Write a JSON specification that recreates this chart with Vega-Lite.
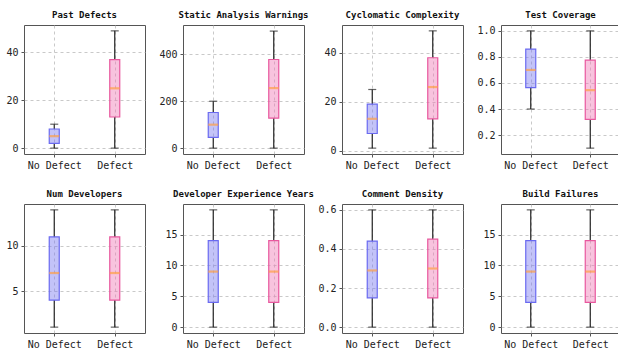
{
  "$schema": "https://vega.github.io/schema/vega-lite/v6.json",
  "padding": {"left": 5, "top": 10, "right": 0, "bottom": 0},
  "background": "white",
  "data": {"values": [
    {"feature": "Past Defects", "cls": "No Defect", "min": 0, "q1": 2, "med": 5, "q3": 8, "max": 10},
    {"feature": "Past Defects", "cls": "Defect", "min": 0, "q1": 13, "med": 25, "q3": 37, "max": 49},
    {"feature": "Static Analysis Warnings", "cls": "No Defect", "min": 0, "q1": 46, "med": 100, "q3": 152, "max": 200},
    {"feature": "Static Analysis Warnings", "cls": "Defect", "min": 0, "q1": 128, "med": 256, "q3": 378, "max": 499},
    {"feature": "Cyclomatic Complexity", "cls": "No Defect", "min": 1, "q1": 7, "med": 13, "q3": 19, "max": 25},
    {"feature": "Cyclomatic Complexity", "cls": "Defect", "min": 1, "q1": 13, "med": 26, "q3": 38, "max": 49},
    {"feature": "Test Coverage", "cls": "No Defect", "min": 0.4, "q1": 0.565, "med": 0.7, "q3": 0.86, "max": 1.0},
    {"feature": "Test Coverage", "cls": "Defect", "min": 0.1, "q1": 0.32, "med": 0.545, "q3": 0.775, "max": 1.0},
    {"feature": "Num Developers", "cls": "No Defect", "min": 1, "q1": 4, "med": 7, "q3": 11, "max": 14},
    {"feature": "Num Developers", "cls": "Defect", "min": 1, "q1": 4, "med": 7, "q3": 11, "max": 14},
    {"feature": "Developer Experience Years", "cls": "No Defect", "min": 0, "q1": 4, "med": 9, "q3": 14, "max": 19},
    {"feature": "Developer Experience Years", "cls": "Defect", "min": 0, "q1": 4, "med": 9, "q3": 14, "max": 19},
    {"feature": "Comment Density", "cls": "No Defect", "min": 0, "q1": 0.15, "med": 0.29, "q3": 0.44, "max": 0.6},
    {"feature": "Comment Density", "cls": "Defect", "min": 0, "q1": 0.15, "med": 0.3, "q3": 0.45, "max": 0.6},
    {"feature": "Build Failures", "cls": "No Defect", "min": 0, "q1": 4, "med": 9, "q3": 14, "max": 19},
    {"feature": "Build Failures", "cls": "Defect", "min": 0, "q1": 4, "med": 9, "q3": 14, "max": 19}
  ]},
  "columns": 4,
  "bounds": "flush",
  "spacing": {"column": 38, "row": 50},
  "concat": [
    {
      "title": "Past Defects", "width": 121, "height": 129,
      "transform": [{"filter": "datum.feature == 'Past Defects'"}],
      "encoding": {"x": {"field": "cls", "type": "nominal", "title": null, "scale": {"type": "point", "domain": ["No Defect", "Defect"], "padding": 0.5}}},
      "layer": [
        {"mark": {"type": "rule", "color": "#222", "strokeWidth": 1.2}, "encoding": {"y": {"field": "min", "type": "quantitative", "title": null, "scale": {"domain": [-2.45, 51.45], "nice": false, "zero": false}, "axis": {"values": [0, 20, 40], "tickCount": 10}}, "y2": {"field": "q1"}}},
        {"mark": {"type": "rule", "color": "#222", "strokeWidth": 1.2}, "encoding": {"y": {"field": "q3", "type": "quantitative"}, "y2": {"field": "max"}}},
        {"mark": {"type": "tick", "color": "#222", "size": 8, "thickness": 1.2}, "encoding": {"y": {"field": "min", "type": "quantitative"}}},
        {"mark": {"type": "tick", "color": "#222", "size": 8, "thickness": 1.2}, "encoding": {"y": {"field": "max", "type": "quantitative"}}},
        {"mark": {"type": "bar", "size": 10, "strokeWidth": 1.2, "fillOpacity": 0.45}, "encoding": {"y": {"field": "q1", "type": "quantitative"}, "y2": {"field": "q3"}, "fill": {"field": "cls", "type": "nominal", "scale": {"domain": ["No Defect", "Defect"], "range": ["#7b7bf0", "#f07bb5"]}, "legend": null}, "stroke": {"field": "cls", "type": "nominal", "scale": {"domain": ["No Defect", "Defect"], "range": ["#6a6af0", "#e8589e"]}, "legend": null}}},
        {"mark": {"type": "tick", "color": "#ff9f45", "size": 10, "thickness": 2.2}, "encoding": {"y": {"field": "med", "type": "quantitative"}}}
      ]
    },
    {
      "title": "Static Analysis Warnings", "width": 121, "height": 129,
      "transform": [{"filter": "datum.feature == 'Static Analysis Warnings'"}],
      "encoding": {"x": {"field": "cls", "type": "nominal", "title": null, "scale": {"type": "point", "domain": ["No Defect", "Defect"], "padding": 0.5}}},
      "layer": [
        {"mark": {"type": "rule", "color": "#222", "strokeWidth": 1.2}, "encoding": {"y": {"field": "min", "type": "quantitative", "title": null, "scale": {"domain": [-25, 525], "nice": false, "zero": false}, "axis": {"values": [0, 200, 400], "tickCount": 10}}, "y2": {"field": "q1"}}},
        {"mark": {"type": "rule", "color": "#222", "strokeWidth": 1.2}, "encoding": {"y": {"field": "q3", "type": "quantitative"}, "y2": {"field": "max"}}},
        {"mark": {"type": "tick", "color": "#222", "size": 8, "thickness": 1.2}, "encoding": {"y": {"field": "min", "type": "quantitative"}}},
        {"mark": {"type": "tick", "color": "#222", "size": 8, "thickness": 1.2}, "encoding": {"y": {"field": "max", "type": "quantitative"}}},
        {"mark": {"type": "bar", "size": 10, "strokeWidth": 1.2, "fillOpacity": 0.45}, "encoding": {"y": {"field": "q1", "type": "quantitative"}, "y2": {"field": "q3"}, "fill": {"field": "cls", "type": "nominal", "scale": {"domain": ["No Defect", "Defect"], "range": ["#7b7bf0", "#f07bb5"]}, "legend": null}, "stroke": {"field": "cls", "type": "nominal", "scale": {"domain": ["No Defect", "Defect"], "range": ["#6a6af0", "#e8589e"]}, "legend": null}}},
        {"mark": {"type": "tick", "color": "#ff9f45", "size": 10, "thickness": 2.2}, "encoding": {"y": {"field": "med", "type": "quantitative"}}}
      ]
    },
    {
      "title": "Cyclomatic Complexity", "width": 121, "height": 129,
      "transform": [{"filter": "datum.feature == 'Cyclomatic Complexity'"}],
      "encoding": {"x": {"field": "cls", "type": "nominal", "title": null, "scale": {"type": "point", "domain": ["No Defect", "Defect"], "padding": 0.5}}},
      "layer": [
        {"mark": {"type": "rule", "color": "#222", "strokeWidth": 1.2}, "encoding": {"y": {"field": "min", "type": "quantitative", "title": null, "scale": {"domain": [-1.4, 51.4], "nice": false, "zero": false}, "axis": {"values": [0, 20, 40], "tickCount": 10}}, "y2": {"field": "q1"}}},
        {"mark": {"type": "rule", "color": "#222", "strokeWidth": 1.2}, "encoding": {"y": {"field": "q3", "type": "quantitative"}, "y2": {"field": "max"}}},
        {"mark": {"type": "tick", "color": "#222", "size": 8, "thickness": 1.2}, "encoding": {"y": {"field": "min", "type": "quantitative"}}},
        {"mark": {"type": "tick", "color": "#222", "size": 8, "thickness": 1.2}, "encoding": {"y": {"field": "max", "type": "quantitative"}}},
        {"mark": {"type": "bar", "size": 10, "strokeWidth": 1.2, "fillOpacity": 0.45}, "encoding": {"y": {"field": "q1", "type": "quantitative"}, "y2": {"field": "q3"}, "fill": {"field": "cls", "type": "nominal", "scale": {"domain": ["No Defect", "Defect"], "range": ["#7b7bf0", "#f07bb5"]}, "legend": null}, "stroke": {"field": "cls", "type": "nominal", "scale": {"domain": ["No Defect", "Defect"], "range": ["#6a6af0", "#e8589e"]}, "legend": null}}},
        {"mark": {"type": "tick", "color": "#ff9f45", "size": 10, "thickness": 2.2}, "encoding": {"y": {"field": "med", "type": "quantitative"}}}
      ]
    },
    {
      "title": "Test Coverage", "width": 119, "height": 129,
      "transform": [{"filter": "datum.feature == 'Test Coverage'"}],
      "encoding": {"x": {"field": "cls", "type": "nominal", "title": null, "scale": {"type": "point", "domain": ["No Defect", "Defect"], "padding": 0.5}}},
      "layer": [
        {"mark": {"type": "rule", "color": "#222", "strokeWidth": 1.2}, "encoding": {"y": {"field": "min", "type": "quantitative", "title": null, "scale": {"domain": [0.055, 1.045], "nice": false, "zero": false}, "axis": {"values": [0.2, 0.4, 0.6, 0.8, 1.0], "format": ".1f", "tickCount": 10}}, "y2": {"field": "q1"}}},
        {"mark": {"type": "rule", "color": "#222", "strokeWidth": 1.2}, "encoding": {"y": {"field": "q3", "type": "quantitative"}, "y2": {"field": "max"}}},
        {"mark": {"type": "tick", "color": "#222", "size": 8, "thickness": 1.2}, "encoding": {"y": {"field": "min", "type": "quantitative"}}},
        {"mark": {"type": "tick", "color": "#222", "size": 8, "thickness": 1.2}, "encoding": {"y": {"field": "max", "type": "quantitative"}}},
        {"mark": {"type": "bar", "size": 10, "strokeWidth": 1.2, "fillOpacity": 0.45}, "encoding": {"y": {"field": "q1", "type": "quantitative"}, "y2": {"field": "q3"}, "fill": {"field": "cls", "type": "nominal", "scale": {"domain": ["No Defect", "Defect"], "range": ["#7b7bf0", "#f07bb5"]}, "legend": null}, "stroke": {"field": "cls", "type": "nominal", "scale": {"domain": ["No Defect", "Defect"], "range": ["#6a6af0", "#e8589e"]}, "legend": null}}},
        {"mark": {"type": "tick", "color": "#ff9f45", "size": 10, "thickness": 2.2}, "encoding": {"y": {"field": "med", "type": "quantitative"}}}
      ]
    },
    {
      "title": "Num Developers", "width": 121, "height": 129,
      "transform": [{"filter": "datum.feature == 'Num Developers'"}],
      "encoding": {"x": {"field": "cls", "type": "nominal", "title": null, "scale": {"type": "point", "domain": ["No Defect", "Defect"], "padding": 0.5}}},
      "layer": [
        {"mark": {"type": "rule", "color": "#222", "strokeWidth": 1.2}, "encoding": {"y": {"field": "min", "type": "quantitative", "title": null, "scale": {"domain": [0.35, 14.65], "nice": false, "zero": false}, "axis": {"values": [5, 10], "tickCount": 10}}, "y2": {"field": "q1"}}},
        {"mark": {"type": "rule", "color": "#222", "strokeWidth": 1.2}, "encoding": {"y": {"field": "q3", "type": "quantitative"}, "y2": {"field": "max"}}},
        {"mark": {"type": "tick", "color": "#222", "size": 8, "thickness": 1.2}, "encoding": {"y": {"field": "min", "type": "quantitative"}}},
        {"mark": {"type": "tick", "color": "#222", "size": 8, "thickness": 1.2}, "encoding": {"y": {"field": "max", "type": "quantitative"}}},
        {"mark": {"type": "bar", "size": 10, "strokeWidth": 1.2, "fillOpacity": 0.45}, "encoding": {"y": {"field": "q1", "type": "quantitative"}, "y2": {"field": "q3"}, "fill": {"field": "cls", "type": "nominal", "scale": {"domain": ["No Defect", "Defect"], "range": ["#7b7bf0", "#f07bb5"]}, "legend": null}, "stroke": {"field": "cls", "type": "nominal", "scale": {"domain": ["No Defect", "Defect"], "range": ["#6a6af0", "#e8589e"]}, "legend": null}}},
        {"mark": {"type": "tick", "color": "#ff9f45", "size": 10, "thickness": 2.2}, "encoding": {"y": {"field": "med", "type": "quantitative"}}}
      ]
    },
    {
      "title": "Developer Experience Years", "width": 121, "height": 129,
      "transform": [{"filter": "datum.feature == 'Developer Experience Years'"}],
      "encoding": {"x": {"field": "cls", "type": "nominal", "title": null, "scale": {"type": "point", "domain": ["No Defect", "Defect"], "padding": 0.5}}},
      "layer": [
        {"mark": {"type": "rule", "color": "#222", "strokeWidth": 1.2}, "encoding": {"y": {"field": "min", "type": "quantitative", "title": null, "scale": {"domain": [-0.95, 19.95], "nice": false, "zero": false}, "axis": {"values": [0, 5, 10, 15], "tickCount": 10}}, "y2": {"field": "q1"}}},
        {"mark": {"type": "rule", "color": "#222", "strokeWidth": 1.2}, "encoding": {"y": {"field": "q3", "type": "quantitative"}, "y2": {"field": "max"}}},
        {"mark": {"type": "tick", "color": "#222", "size": 8, "thickness": 1.2}, "encoding": {"y": {"field": "min", "type": "quantitative"}}},
        {"mark": {"type": "tick", "color": "#222", "size": 8, "thickness": 1.2}, "encoding": {"y": {"field": "max", "type": "quantitative"}}},
        {"mark": {"type": "bar", "size": 10, "strokeWidth": 1.2, "fillOpacity": 0.45}, "encoding": {"y": {"field": "q1", "type": "quantitative"}, "y2": {"field": "q3"}, "fill": {"field": "cls", "type": "nominal", "scale": {"domain": ["No Defect", "Defect"], "range": ["#7b7bf0", "#f07bb5"]}, "legend": null}, "stroke": {"field": "cls", "type": "nominal", "scale": {"domain": ["No Defect", "Defect"], "range": ["#6a6af0", "#e8589e"]}, "legend": null}}},
        {"mark": {"type": "tick", "color": "#ff9f45", "size": 10, "thickness": 2.2}, "encoding": {"y": {"field": "med", "type": "quantitative"}}}
      ]
    },
    {
      "title": "Comment Density", "width": 121, "height": 129,
      "transform": [{"filter": "datum.feature == 'Comment Density'"}],
      "encoding": {"x": {"field": "cls", "type": "nominal", "title": null, "scale": {"type": "point", "domain": ["No Defect", "Defect"], "padding": 0.5}}},
      "layer": [
        {"mark": {"type": "rule", "color": "#222", "strokeWidth": 1.2}, "encoding": {"y": {"field": "min", "type": "quantitative", "title": null, "scale": {"domain": [-0.03, 0.63], "nice": false, "zero": false}, "axis": {"values": [0, 0.2, 0.4, 0.6], "format": ".1f", "tickCount": 10}}, "y2": {"field": "q1"}}},
        {"mark": {"type": "rule", "color": "#222", "strokeWidth": 1.2}, "encoding": {"y": {"field": "q3", "type": "quantitative"}, "y2": {"field": "max"}}},
        {"mark": {"type": "tick", "color": "#222", "size": 8, "thickness": 1.2}, "encoding": {"y": {"field": "min", "type": "quantitative"}}},
        {"mark": {"type": "tick", "color": "#222", "size": 8, "thickness": 1.2}, "encoding": {"y": {"field": "max", "type": "quantitative"}}},
        {"mark": {"type": "bar", "size": 10, "strokeWidth": 1.2, "fillOpacity": 0.45}, "encoding": {"y": {"field": "q1", "type": "quantitative"}, "y2": {"field": "q3"}, "fill": {"field": "cls", "type": "nominal", "scale": {"domain": ["No Defect", "Defect"], "range": ["#7b7bf0", "#f07bb5"]}, "legend": null}, "stroke": {"field": "cls", "type": "nominal", "scale": {"domain": ["No Defect", "Defect"], "range": ["#6a6af0", "#e8589e"]}, "legend": null}}},
        {"mark": {"type": "tick", "color": "#ff9f45", "size": 10, "thickness": 2.2}, "encoding": {"y": {"field": "med", "type": "quantitative"}}}
      ]
    },
    {
      "title": "Build Failures", "width": 119, "height": 129,
      "transform": [{"filter": "datum.feature == 'Build Failures'"}],
      "encoding": {"x": {"field": "cls", "type": "nominal", "title": null, "scale": {"type": "point", "domain": ["No Defect", "Defect"], "padding": 0.5}}},
      "layer": [
        {"mark": {"type": "rule", "color": "#222", "strokeWidth": 1.2}, "encoding": {"y": {"field": "min", "type": "quantitative", "title": null, "scale": {"domain": [-0.95, 19.95], "nice": false, "zero": false}, "axis": {"values": [0, 5, 10, 15], "tickCount": 10}}, "y2": {"field": "q1"}}},
        {"mark": {"type": "rule", "color": "#222", "strokeWidth": 1.2}, "encoding": {"y": {"field": "q3", "type": "quantitative"}, "y2": {"field": "max"}}},
        {"mark": {"type": "tick", "color": "#222", "size": 8, "thickness": 1.2}, "encoding": {"y": {"field": "min", "type": "quantitative"}}},
        {"mark": {"type": "tick", "color": "#222", "size": 8, "thickness": 1.2}, "encoding": {"y": {"field": "max", "type": "quantitative"}}},
        {"mark": {"type": "bar", "size": 10, "strokeWidth": 1.2, "fillOpacity": 0.45}, "encoding": {"y": {"field": "q1", "type": "quantitative"}, "y2": {"field": "q3"}, "fill": {"field": "cls", "type": "nominal", "scale": {"domain": ["No Defect", "Defect"], "range": ["#7b7bf0", "#f07bb5"]}, "legend": null}, "stroke": {"field": "cls", "type": "nominal", "scale": {"domain": ["No Defect", "Defect"], "range": ["#6a6af0", "#e8589e"]}, "legend": null}}},
        {"mark": {"type": "tick", "color": "#ff9f45", "size": 10, "thickness": 2.2}, "encoding": {"y": {"field": "med", "type": "quantitative"}}}
      ]
    }
  ],
  "config": {
    "font": "DejaVu Sans Mono",
    "view": {"stroke": "#555", "strokeWidth": 1},
    "title": {"font": "DejaVu Sans Mono", "fontSize": 9, "fontWeight": "bold", "color": "#111", "offset": 5},
    "axis": {
      "labelFont": "DejaVu Sans Mono", "labelFontSize": 10, "labelColor": "#222",
      "domain": false, "tickColor": "#555", "tickSize": 3,
      "grid": true, "gridDash": [3, 3], "gridColor": "#bbbbbb", "gridWidth": 0.8,
      "labelPadding": 3, "labelOverlap": false
    },
    "axisX": {"labelAngle": 0},
    "tick": {"bandSize": 10}
  }
}
